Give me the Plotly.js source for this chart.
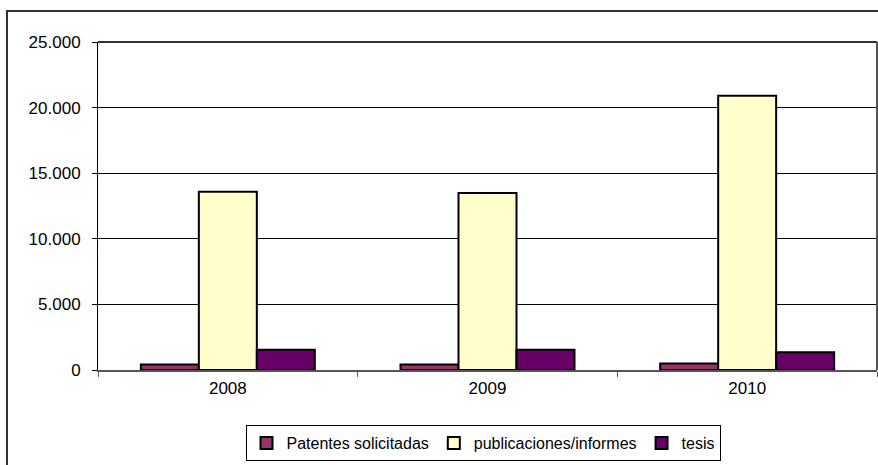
<!DOCTYPE html>
<html>
<head>
<meta charset="utf-8">
<script src="https://cdn.plot.ly/plotly-3.0.1.min.js"></script>
<style>html,body{margin:0;padding:0;background:#fff;}#chart{width:878px;height:465px;}</style>
</head>
<body>
<div id="chart"></div>
<script>
const years = ['2008', '2009', '2010'];
const patentes = [420, 420, 500];
const publicaciones = [13580, 13500, 20900];
const tesis = [1550, 1550, 1350];
const seriesNames = ['Patentes solicitadas', 'publicaciones/informes', 'tesis'];
const tickVals = [0, 5000, 10000, 15000, 20000, 25000];

const colors = ['#993366', '#FFFFCC', '#660066'];
const allSeries = [patentes, publicaciones, tesis];

const traces = allSeries.map((vals, i) => ({
  type: 'bar',
  x: years,
  y: vals,
  name: seriesNames[i],
  marker: {color: colors[i], line: {color: '#000', width: 2}},
  hoverinfo: 'none'
}));

const L = 98, R = 877, T = 42, B = 370, W = 878, H = 465;
const pw = R - L, ph = B - T;
const px = v => (v - L) / pw;
const py = v => (B - v) / ph;

const layout = {
  width: W, height: H,
  margin: {l: L, r: W - R, t: T, b: H - B, pad: 0, autoexpand: false},
  paper_bgcolor: '#fff', plot_bgcolor: '#fff',
  separators: ',.',
  barmode: 'group',
  bargap: 0.33,
  bargroupgap: 0,
  font: {family: 'Liberation Sans, Arial, sans-serif', size: 17, color: '#000'},
  showlegend: true,
  legend: {
    orientation: 'h', x: px(483), xanchor: 'center', y: py(425), yanchor: 'top',
    bordercolor: '#000', borderwidth: 1, bgcolor: '#fff',
    font: {size: 16}, itemclick: false, tracegroupgap: 0, itemwidth: 30
  },
  xaxis: {
    type: 'category', showline: true, linecolor: '#555', linewidth: 2,
    ticks: 'outside', ticklen: 5, tickcolor: '#555', tickson: 'boundaries',
    showgrid: false, fixedrange: true, tickfont: {size: 17}, ticklabelstandoff: 2,
    automargin: false
  },
  yaxis: {
    range: [0, 25000], tickvals: tickVals, tickformat: ',d',
    showline: true, linecolor: '#000', linewidth: 1,
    ticks: 'outside', ticklen: 5, tickcolor: '#000',
    showgrid: true, gridcolor: '#000', gridwidth: 1, zeroline: false,
    fixedrange: true, tickfont: {size: 17}, ticklabelstandoff: 8,
    automargin: false
  },
  shapes: [
    {type: 'rect', xref: 'paper', yref: 'paper', x0: px(7), x1: px(880), y0: py(11), y1: py(470),
     line: {color: '#333', width: 2}, fillcolor: 'rgba(0,0,0,0)', layer: 'below'},
    {type: 'line', xref: 'paper', yref: 'paper', x0: 1, x1: 1, y0: 0, y1: 1,
     line: {color: '#555', width: 2}},
    {type: 'line', xref: 'paper', yref: 'paper', x0: 0, x1: 1, y0: 1, y1: 1,
     line: {color: '#333', width: 2}}
  ]
};

Plotly.newPlot('chart', traces, layout, {displayModeBar: false, staticPlot: true});
</script>
</body>
</html>
